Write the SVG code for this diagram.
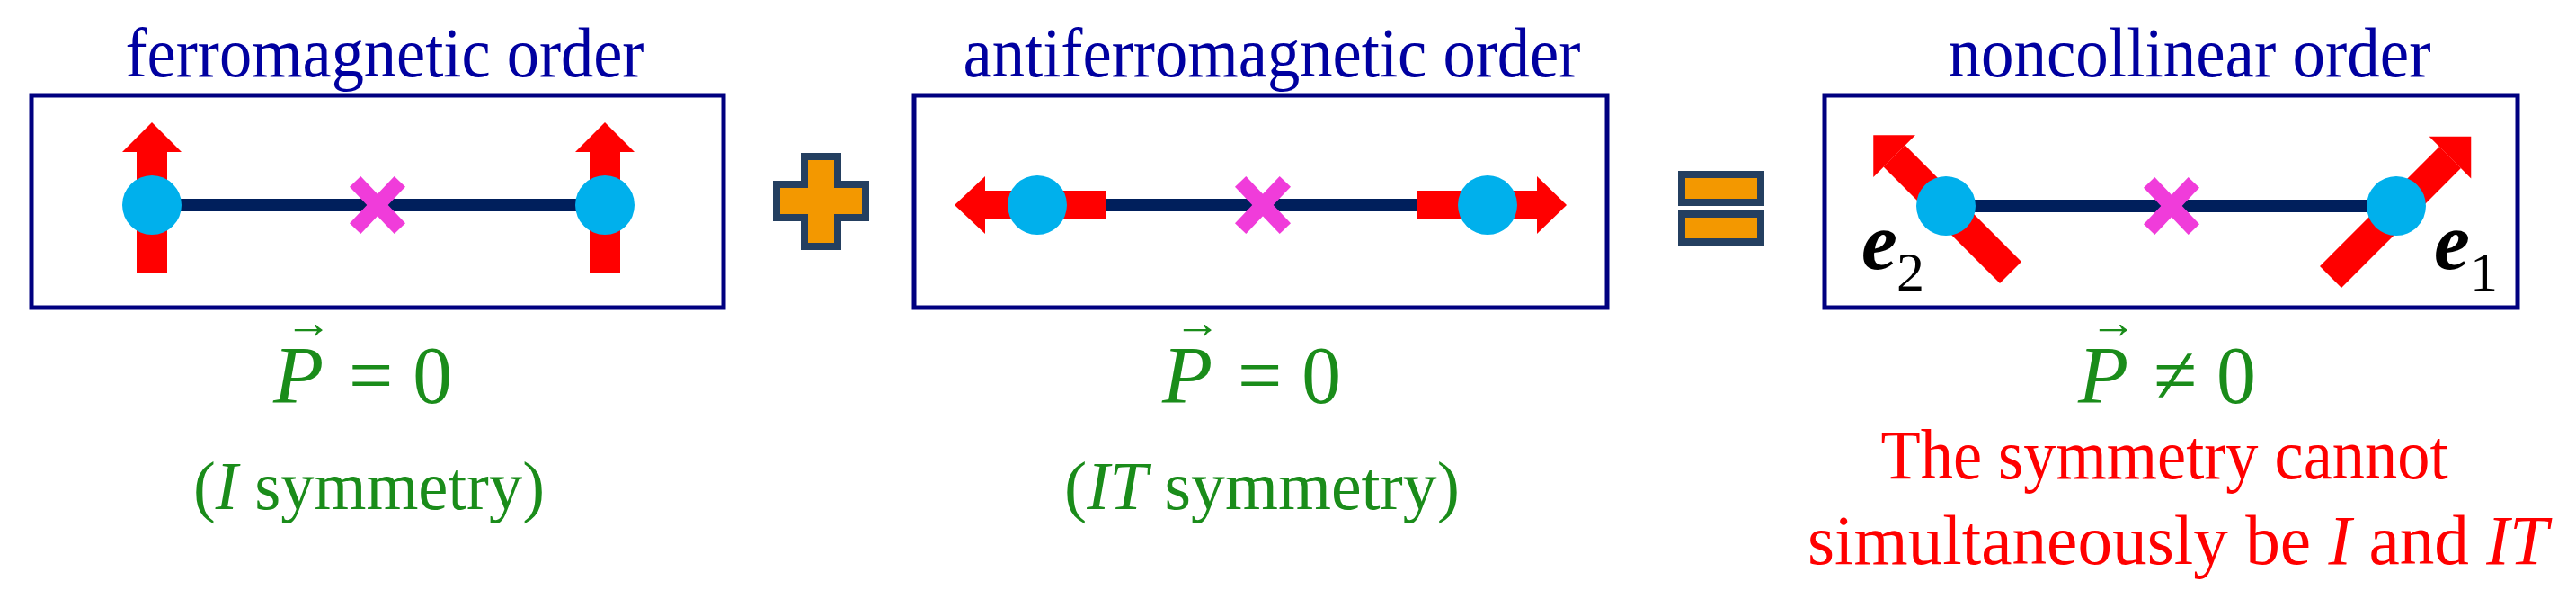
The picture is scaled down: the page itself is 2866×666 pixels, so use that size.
<svg xmlns="http://www.w3.org/2000/svg" width="2866" height="666" viewBox="0 0 2866 666">
<defs>
<style>
.box{fill:#fff;stroke:#000080;stroke-width:5}
.title{font-family:"Liberation Serif",serif;font-size:78px;fill:#0000A0;text-anchor:middle}
.grn{font-family:"Liberation Serif",serif;fill:#1A8C1A}
.red{font-family:"Liberation Serif",serif;font-size:78px;fill:#FF0000;text-anchor:middle}
.it{font-style:italic}
.bar{stroke:#001F5C;stroke-width:14}
.atom{fill:#00B0EC}
.xm{stroke:#F03CDA;stroke-width:17;stroke-linecap:square}
.arr{fill:#FF0000}
.op{fill:#F39800;stroke:#243F60;stroke-width:8}
.lbl{font-family:"Liberation Serif",serif;fill:#000}
</style>
<g id="xmark"><line class="xm" x1="-19" y1="-20" x2="19" y2="20"/><line class="xm" x1="19" y1="-20" x2="-19" y2="20"/></g>
</defs>

<g id="ferro">
<text class="title" x="428" y="85" textLength="577" lengthAdjust="spacingAndGlyphs">ferromagnetic order</text>
<rect class="box" x="35" y="106" width="770" height="236"/>
<g transform="translate(169,303) rotate(-90)"><rect class="arr" x="0" y="-17" width="134" height="34"/><polygon class="arr" points="134,-33 167,0 134,33"/></g>
<g transform="translate(673,303) rotate(-90)"><rect class="arr" x="0" y="-17" width="134" height="34"/><polygon class="arr" points="134,-33 167,0 134,33"/></g>
<line class="bar" x1="169" y1="228" x2="673" y2="228"/>
<circle class="atom" cx="169" cy="228" r="33"/>
<circle class="atom" cx="673" cy="228" r="33"/>
<use href="#xmark" x="420" y="228"/>
<text class="grn" font-size="52" x="343" y="376" text-anchor="middle">→</text>
<text class="grn it" font-size="92" x="304" y="448">P</text>
<text class="grn" font-size="92" x="388" y="448" textLength="115" lengthAdjust="spacingAndGlyphs">= 0</text>
<text class="grn" font-size="76" x="215" y="566" textLength="391" lengthAdjust="spacingAndGlyphs">(<tspan class="it">I</tspan> symmetry)</text>
</g>

<g id="plus"><path class="op" d="M895,174 h37 v31 h31 v37 h-31 v32 h-37 v-32 h-31 v-37 h31 z"/></g>

<g id="afm">
<text class="title" x="1415" y="85" textLength="687" lengthAdjust="spacingAndGlyphs">antiferromagnetic order</text>
<rect class="box" x="1017" y="106" width="771" height="236"/>
<g transform="translate(1230,228) rotate(180)"><rect class="arr" x="0" y="-16" width="134" height="32"/><polygon class="arr" points="134,-32 168,0 134,32"/></g>
<g transform="translate(1576,228)"><rect class="arr" x="0" y="-16" width="134" height="32"/><polygon class="arr" points="134,-32 167,0 134,32"/></g>
<line class="bar" x1="1230" y1="228" x2="1576" y2="228"/>
<circle class="atom" cx="1154" cy="228" r="33"/>
<circle class="atom" cx="1655" cy="228" r="33"/>
<use href="#xmark" x="1405" y="228"/>
<text class="grn" font-size="52" x="1332" y="376" text-anchor="middle">→</text>
<text class="grn it" font-size="92" x="1293" y="448">P</text>
<text class="grn" font-size="92" x="1377" y="448" textLength="115" lengthAdjust="spacingAndGlyphs">= 0</text>
<text class="grn" font-size="76" x="1184" y="566" textLength="440" lengthAdjust="spacingAndGlyphs">(<tspan class="it">IT</tspan> symmetry)</text>
</g>

<g id="equals">
<rect class="op" x="1871" y="194" width="88" height="31"/>
<rect class="op" x="1871" y="238" width="88" height="31"/>
</g>

<g id="noncollinear">
<text class="title" x="2436" y="85" textLength="537" lengthAdjust="spacingAndGlyphs">noncollinear order</text>
<rect class="box" x="2030" y="106" width="771" height="236"/>
<g transform="translate(2237,303) rotate(-135)"><rect class="arr" x="0" y="-17" width="183" height="34"/><polygon class="arr" points="183,-33 216,0 183,33"/></g>
<g transform="translate(2593,308) rotate(-45)"><rect class="arr" x="0" y="-17" width="188" height="34"/><polygon class="arr" points="188,-33 221,0 188,33"/></g>
<line class="bar" x1="2165" y1="229" x2="2666" y2="229"/>
<circle class="atom" cx="2165" cy="229" r="33"/>
<circle class="atom" cx="2666" cy="229" r="33"/>
<use href="#xmark" x="2416" y="229"/>
<text class="lbl it" font-weight="bold" font-size="90" x="2071" y="299">e</text>
<text class="lbl" font-size="62" x="2110" y="323">2</text>
<text class="lbl it" font-weight="bold" font-size="90" x="2708" y="299">e</text>
<text class="lbl" font-size="62" x="2748" y="323">1</text>
<text class="grn" font-size="52" x="2351" y="376" text-anchor="middle">→</text>
<text class="grn it" font-size="92" x="2312" y="448">P</text>
<text class="grn" font-size="92" x="2396" y="448" textLength="114" lengthAdjust="spacingAndGlyphs">≠ 0</text>
<text class="red" x="2408" y="532" textLength="631" lengthAdjust="spacingAndGlyphs">The symmetry cannot</text>
<text class="red" x="2423" y="627" textLength="824" lengthAdjust="spacingAndGlyphs">simultaneously be <tspan class="it">I</tspan> and <tspan class="it">IT</tspan></text>
</g>
</svg>
